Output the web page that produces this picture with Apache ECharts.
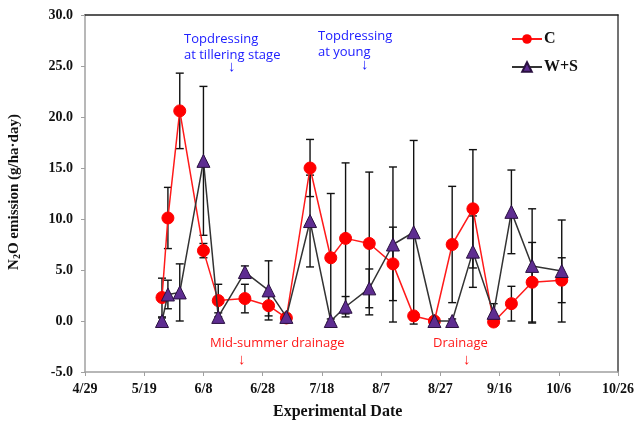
<!DOCTYPE html>
<html>
<head>
<meta charset="utf-8">
<script src="https://cdn.jsdelivr.net/npm/echarts@6/dist/echarts.min.js"></script>
<style>html,body{margin:0;padding:0;background:#fff}#c{width:637px;height:425px}</style>
</head>
<body>
<div id="c"></div>
<script>
// ---- data ----
var startDate = '4/29';
var sampleDates = ['5/25','5/27','5/31','6/8','6/13','6/22','6/30','7/6','7/14','7/21','7/26','8/3','8/11','8/18','8/25','8/31','9/7','9/14','9/20','9/27','10/7'];
var valuesC  = [2.3, 10.1, 20.6, 6.9, 2.0, 2.2, 1.5, 0.3, 15.0, 6.2, 8.1, 7.6, 5.6, 0.5, 0.0, 7.5, 11.0, -0.1, 1.7, 3.8, 4.0];
var errorsC  = [1.9, 3.0, 3.7, 0.7, 1.6, 1.4, 1.0, 0.3, 2.8, 6.3, 7.4, 7.0, 3.6, 0.3, 0.2, 5.7, 5.8, 0.2, 1.7, 3.9, 2.2];
var valuesWS = [0.0, 2.6, 2.8, 15.7, 0.4, 4.8, 3.0, 0.4, 9.8, 0.0, 1.4, 3.2, 7.5, 8.7, 0.0, 0.0, 6.8, 0.8, 10.7, 5.4, 4.9];
var errorsWS = [0.3, 1.4, 2.8, 7.3, 0.4, 0.6, 2.9, 0.3, 4.5, 0.2, 1.0, 1.9, 7.6, 9.0, 0.2, 0.2, 3.5, 0.9, 4.1, 5.6, 5.0];
var xTickLabels = ['4/29','5/19','6/8','6/28','7/18','8/7','8/27','9/16','10/6','10/26'];
var seriesNames = ['C', 'W+S'];

// ---- helpers ----
function dayOf(md) {
  var p = md.split('/');
  return (Date.UTC(2013, +p[0] - 1, +p[1]) - Date.UTC(2013, 3, 29)) / 86400000;
}
var xDays = sampleDates.map(dayOf);
function pairs(vals) { return vals.map(function (v, i) { return [xDays[i], v]; }); }
function errData(vals, errs) { return vals.map(function (v, i) { return [xDays[i], v - errs[i], v + errs[i]]; }); }

var serif = '"Liberation Serif", "Times New Roman", serif';
var sans = '"Open Sans", "Noto Sans", sans-serif';

function errRender(params, api) {
  var x = api.value(0);
  var lo = api.coord([x, api.value(1)]);
  var hi = api.coord([x, api.value(2)]);
  var w = 4;
  var st = { stroke: '#111', lineWidth: 1.4 };
  return {
    type: 'group',
    children: [
      { type: 'line', shape: { x1: lo[0], y1: lo[1], x2: hi[0], y2: hi[1] }, style: st },
      { type: 'line', shape: { x1: lo[0] - w, y1: lo[1], x2: lo[0] + w, y2: lo[1] }, style: st },
      { type: 'line', shape: { x1: hi[0] - w, y1: hi[1], x2: hi[0] + w, y2: hi[1] }, style: st }
    ]
  };
}

var chart = echarts.init(document.getElementById('c'), null, { renderer: 'canvas' });
var axisLabelStyle = { fontFamily: serif, fontWeight: 'bold', fontSize: 14, color: '#111' };
chart.setOption({
  animation: false,
  backgroundColor: '#fff',
  grid: { left: 85, right: 19, top: 15, bottom: 53 },
  legend: {
    orient: 'vertical', left: 506, top: 26, itemGap: 12, itemWidth: 30, itemHeight: 12,
    textStyle: { fontFamily: serif, fontWeight: 'bold', fontSize: 16, color: '#111', padding: [0, 0, 0, -3] },
    data: seriesNames
  },
  xAxis: [{
    type: 'value', min: 0, max: 180, interval: 20, position: 'bottom',
    axisLine: { show: true, onZero: false, lineStyle: { color: '#a0a0a0', width: 1.5 } },
    axisTick: { show: true, length: 4, lineStyle: { color: '#a0a0a0' } },
    splitLine: { show: false },
    axisLabel: Object.assign({ margin: 10, formatter: function (v) { return xTickLabels[Math.round(v / 20)] || ''; } }, axisLabelStyle)
  }, {
    type: 'value', min: 0, max: 180, position: 'top',
    axisLine: { show: true, onZero: false, lineStyle: { color: '#222', width: 1.5 } },
    axisTick: { show: false }, axisLabel: { show: false }, splitLine: { show: false }
  }],
  yAxis: [{
    type: 'value', min: -5, max: 30, interval: 5, position: 'left',
    axisLine: { show: true, onZero: false, lineStyle: { color: '#a0a0a0', width: 1.5 } },
    axisTick: { show: true, length: 4, lineStyle: { color: '#a0a0a0' } },
    splitLine: { show: false },
    axisLabel: Object.assign({ margin: 12, formatter: function (v) { return v.toFixed(1); } }, axisLabelStyle)
  }, {
    type: 'value', min: -5, max: 30, position: 'right',
    axisLine: { show: true, onZero: false, lineStyle: { color: '#444', width: 1.5 } },
    axisTick: { show: false }, axisLabel: { show: false }, splitLine: { show: false }
  }],
  series: [
    { type: 'custom', name: 'errC', renderItem: errRender, data: errData(valuesC, errorsC), z: 1, silent: true },
    { type: 'custom', name: 'errWS', renderItem: errRender, data: errData(valuesWS, errorsWS), z: 1, silent: true },
    {
      name: seriesNames[0], type: 'line', data: pairs(valuesC), z: 3,
      symbol: 'circle', symbolSize: 12,
      lineStyle: { color: '#ff1a1a', width: 1.5 },
      itemStyle: { color: '#ff0000', borderColor: '#ff0000' }
    },
    {
      name: seriesNames[1], type: 'line', data: pairs(valuesWS), z: 4,
      symbol: 'triangle', symbolSize: 13,
      lineStyle: { color: '#333', width: 1.5 },
      itemStyle: { color: '#5e2d91', borderColor: '#2a1040', borderWidth: 1 }
    }
  ],
  graphic: [
    { type: 'text', left: 184, top: 31, style: { text: 'Topdressing\nat tillering stage', fill: '#2020ff', font: '13px ' + sans, lineHeight: 16 } },
    { type: 'text', left: 228, top: 59, style: { text: '↓', fill: '#2020ff', font: '15px ' + sans } },
    { type: 'text', left: 318, top: 28, style: { text: 'Topdressing\nat young', fill: '#2020ff', font: '13px ' + sans, lineHeight: 16 } },
    { type: 'text', left: 361, top: 57, style: { text: '↓', fill: '#2020ff', font: '15px ' + sans } },
    { type: 'text', left: 210, top: 337, style: { text: 'Mid-summer drainage', fill: '#ff1a1a', font: '13px ' + sans } },
    { type: 'text', left: 238, top: 352, style: { text: '↓', fill: '#ff1a1a', font: '15px ' + sans } },
    { type: 'text', left: 433, top: 337, style: { text: 'Drainage', fill: '#ff1a1a', font: '13px ' + sans } },
    { type: 'text', left: 463, top: 352, style: { text: '↓', fill: '#ff1a1a', font: '15px ' + sans } },
    { type: 'text', left: 273, top: 404, style: { text: 'Experimental Date', fill: '#111', font: 'bold 16px ' + serif } },
    {
      type: 'text', x: 14, y: 192, rotation: Math.PI / 2,
      style: {
        text: 'N{s|2}O emission (g/ha·day)', fill: '#111', font: 'bold 15px ' + serif,
        align: 'center', verticalAlign: 'middle',
        rich: { s: { fontSize: 10, fontWeight: 'bold', fontFamily: serif, verticalAlign: 'bottom', padding: [6, 0, 0, 0] } }
      }
    }
  ]
});
</script>
</body>
</html>
